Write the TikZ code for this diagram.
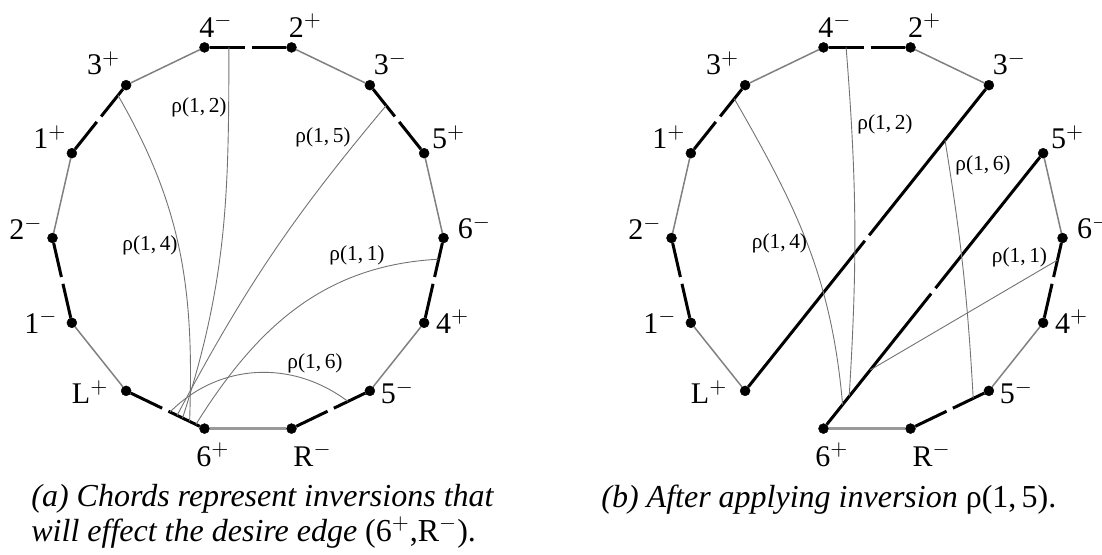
\documentclass[tikz,border=0pt]{standalone}
\usepackage{fontspec}
\setmainfont{Liberation Serif}
\usetikzlibrary{calc}

\begin{document}
\begin{tikzpicture}[
	x=0.5pt, y=0.5pt,
	vertex/.style={ circle, draw, very thin, fill, inner sep=0pt, minimum size=5pt },
	gredge/.style={ black!50, line width=0.75pt },
	goal/.style={ black!40, line width=1.3pt },
	bkedge/.style={ black, line width=1.5pt },
	chord/.style={ black!55, line width=0.45pt },
	rholab/.style={ font=\fontsize{10.7}{12}\selectfont, inner sep=1pt },
	capt/.style={ font=\fontsize{16}{17.5}\selectfont, inner sep=0pt, align=left },
	every label/.style={ font=\fontsize{15}{18}\selectfont }
]
\useasboundingbox (0,0) rectangle (1102,554);

% the 14 vertices, same in both panels
\foreach \pn/\cx in {a/248, b/867}{
  \foreach \vn/\ang/\txt/\lx/\ly in {2p/77.14/2$^+$/7/11, 4m/102.86/4$^-$/5.75/11,
      3p/128.57/3$^+$/-11.25/11, 1p/154.29/1$^+$/-11/8, 2m/180/2$^-$/-13.25/5,
      1m/205.71/1$^-$/-15.5/0.5, Lp/231.43/L$^+$/-18/-0.75, 6p/257.14/6$^+$/4.25/-13,
      Rm/282.86/R$^-$/10.5/-13, 5m/308.57/5$^-$/13.75/-0.75, 4p/334.29/4$^+$/14.25/0.5,
      6m/0/6$^-$/15.5/5.5, 5p/25.71/5$^+$/12.25/8, 3m/51.43/3$^-$/10.25/11}
    \node at ($(\cx,316)+(\ang:195.5)$) (\pn\vn) [vertex,label={[xshift=\lx pt,yshift=\ly pt]center:\txt}] {};
}

% grey edges
\foreach \pn in {a,b}{
  \foreach \u/\v in {2p/3m, 5p/6m, 4p/5m, Lp/1m, 2m/1p, 3p/4m}
    \draw[gredge] (\pn\u) -- (\pn\v);
  \draw[goal] (\pn6p) -- (\pn Rm);
}

% black edges, broken in the middle
\foreach \u/\v in {a4m/a2p, a3m/a5p, a6m/a4p, a5m/aRm, a6p/aLp, a1m/a2m, a1p/a3p,
    b4m/b2p, b3m/bLp, b6m/b4p, b5m/bRm, b6p/b5p, b1m/b2m, b1p/b3p}{
  \path (\u) -- (\v) coordinate[pos=0.5] (gm);
  \draw[bkedge] (\u) -- ($(gm)!1.75pt!(\u)$);
  \draw[bkedge] (\v) -- ($(gm)!1.75pt!(\v)$);
}

% chords (a)
\coordinate (a12t) at ($(a4m)!0.28!(a2p)$);
\coordinate (a12b) at ($(aLp)!0.72!(a6p)$);
\coordinate (a14t) at ($(a3p)!0.15!(a1p)$);
\coordinate (a14b) at ($(aLp)!0.81!(a6p)$);
\coordinate (a15t) at ($(a3m)!0.30!(a5p)$);
\coordinate (a15b) at ($(aLp)!0.65!(a6p)$);
\coordinate (a11t) at ($(a6m)!0.25!(a4p)$);
\coordinate (a11b) at ($(aLp)!0.89!(a6p)$);
\coordinate (a16t) at ($(a5m)!0.28!(aRm)$);
\coordinate (a16b) at ($(aLp)!0.56!(a6p)$);
\draw[chord] (a12t) to[out=-90,in=72] (a12b);
\draw[chord] (a14t) to[out=-60,in=88] (a14b);
\draw[chord] (a15t) to[out=-130,in=62] (a15b);
\draw[chord] (a11t) to[out=183,in=58] (a11b);
\draw[chord] (a16t) to[out=143,in=45] (a16b);
\node[rholab] (ra12) at (199,447) {ρ(1,\,2)};
\node[rholab] (ra14) at (150,309) {ρ(1,\,4)};
\node[rholab] (ra15) at (323,417) {ρ(1,\,5)};
\node[rholab] (ra11) at (357,299) {ρ(1,\,1)};
\node[rholab] (ra16) at (315,191) {ρ(1,\,6)};

% chords (b)
\coordinate (b12t) at ($(b4m)!0.26!(b2p)$);
\coordinate (b12b) at ($(b6p)!0.117!(b5p)$);
\coordinate (b14t) at ($(b3p)!0.2!(b1p)$);
\coordinate (b14b) at ($(b6p)!0.087!(b5p)$);
\coordinate (b16t) at ($(b3m)!0.18!(bLp)$);
\coordinate (b16b) at ($(b5m)!0.2!(bRm)$);
\coordinate (b11t) at ($(b6m)!0.26!(b4p)$);
\coordinate (b11b) at ($(b6p)!0.213!(b5p)$);
\draw[chord] (b12t) to[bend left=4] (b12b);
\draw[chord] (b14t) to[out=-60,in=95] (b14b);
\draw[chord] (b16t) to[bend left=3] (b16b);
\draw[chord] (b11t) -- (b11b);
\node[rholab] (rb12) at (885,430) {ρ(1,\,2)};
\node[rholab] (rb16) at (983,389) {ρ(1,\,6)};
\node[rholab] (rb14) at (779.5,311) {ρ(1,\,4)};
\node[rholab] (rb11) at (1019.5,297) {ρ(1,\,1)};

% captions
\node[capt,anchor=north west] (capa) at (31,70) {\textit{(a) Chords represent inversions that}\\\textit{will effect the desire edge} (6$^+$,R$^-$).};
\node[capt,anchor=base west] (capb) at (601,47) {\textit{(b) After applying inversion} ρ(1,\,5).};

\end{tikzpicture}
\end{document}
